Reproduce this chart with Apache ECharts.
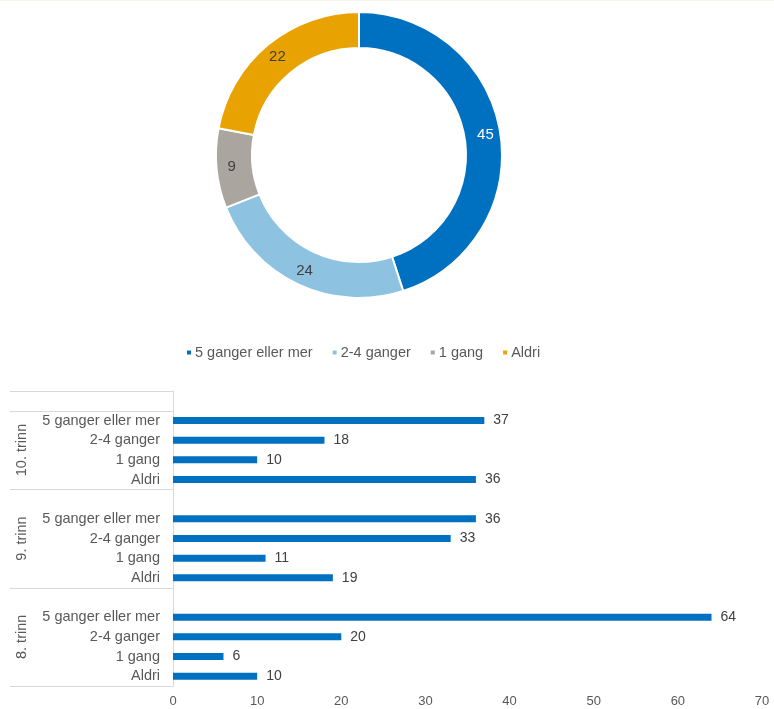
<!DOCTYPE html>
<html>
<head>
<meta charset="utf-8">
<script src="https://cdn.jsdelivr.net/npm/echarts@6/dist/echarts.min.js"></script>
<style>
  html, body { margin: 0; padding: 0; background: #fff; }
  #main { width: 774px; height: 709px; }
</style>
</head>
<body>
<div id="main"></div>
<script>
// svaralternativ og totaler (smultring)
var answers = ['5 ganger eller mer', '2-4 ganger', '1 gang', 'Aldri'];
var totalValues = [45, 24, 9, 22];
var pieColors = ['#0070c0', '#8dc3e0', '#aaa59f', '#e8a202'];

// per trinn (stolper)
var groups = ['10. trinn', '9. trinn', '8. trinn'];
var values10 = [37, 18, 10, 36];
var values9 = [36, 33, 11, 19];
var values8 = [64, 20, 6, 10];

var xMax = 70, xStep = 10;

var font = 'Liberation Sans, Arial, sans-serif';
var textGray = '#595959';

// bygger kategoriene: en tom rad foran hver gruppe
var categories = [], barData = [];
[values10, values9, values8].forEach(function (vals) {
    categories.push('');
    barData.push('-');
    answers.forEach(function (a, i) {
        categories.push(a);
        barData.push(vals[i]);
    });
});

var myChart = echarts.init(document.getElementById('main'));

var option = {
    backgroundColor: '#fff',
    textStyle: { fontFamily: font },
    legend: {
        data: answers,
        left: 180,
        top: 340,
        itemWidth: 6,
        itemHeight: 6,
        itemGap: 18,
        icon: 'rect',
        textStyle: { color: textGray, fontSize: 14.5, fontFamily: font, padding: [0, 0, 0, -2] }
    },
    grid: {
        left: 173,
        right: 12,
        top: 391,
        bottom: 23,
        containLabel: false
    },
    xAxis: {
        type: 'value',
        min: 0,
        max: xMax,
        interval: xStep,
        axisLine: { show: false },
        axisTick: { show: false },
        splitLine: { show: false },
        axisLabel: { color: textGray, fontSize: 13, margin: 9, fontFamily: font }
    },
    yAxis: {
        type: 'category',
        inverse: true,
        data: categories,
        axisLine: { show: true, lineStyle: { color: '#d9d9d9' } },
        axisTick: { show: false },
        axisLabel: { color: textGray, fontSize: 14.5, margin: 13, interval: 0, fontFamily: font }
    },
    series: [
        {
            type: 'pie',
            center: [359, 155],
            radius: [107, 143],
            startAngle: 90,
            clockwise: true,
            avoidLabelOverlap: false,
            itemStyle: { borderColor: '#fff', borderWidth: 2 },
            label: {
                show: true,
                position: 'inside',
                formatter: '{c}',
                fontSize: 15,
                color: '#404040',
                fontFamily: font
            },
            labelLine: { show: false },
            emphasis: { disabled: true },
            data: answers.map(function (a, i) {
                var d = { name: a, value: totalValues[i], itemStyle: { color: pieColors[i] } };
                if (i === 0) d.label = { color: '#fff' };
                return d;
            })
        },
        {
            type: 'bar',
            barWidth: 7,
            itemStyle: { color: '#0070c0' },
            label: {
                show: true,
                position: 'right',
                distance: 9,
                color: '#404040',
                fontSize: 14,
                fontFamily: font
            },
            data: barData
        }
    ]
};

myChart.setOption(option);

// gruppelinjer og trinn-etiketter, plassert ut fra kategoriaksen
var yOf = function (i) { return myChart.convertToPixel({ yAxisIndex: 0 }, i); };
var band = yOf(1) - yOf(0);
var edge = function (i) { return yOf(i) - band / 2; };
var gridLeft = 173;
var lines = [0, 1, 5, 10, 15];
var graphics = lines.map(function (i) {
    var y = Math.round(edge(i)) + 0.5;
    return {
        type: 'line',
        shape: { x1: 10, y1: y, x2: gridLeft, y2: y },
        style: { stroke: '#d9d9d9', lineWidth: 1 },
        silent: true
    };
});
var spans = [[1, 5], [5, 10], [10, 15]];
groups.forEach(function (g, k) {
    var yMid = (edge(spans[k][0]) + edge(spans[k][1])) / 2;
    graphics.push({
        type: 'text',
        x: 22,
        y: yMid,
        rotation: Math.PI / 2,
        style: {
            text: g,
            fill: textGray,
            font: '14.5px ' + font,
            align: 'center',
            verticalAlign: 'middle'
        },
        silent: true
    });
});
// tynn kant øverst
graphics.push({
    type: 'line',
    shape: { x1: 0, y1: 0.5, x2: 774, y2: 0.5 },
    style: { stroke: '#f8f3ea', lineWidth: 1 },
    silent: true
});
myChart.setOption({ graphic: graphics });
</script>
</body>
</html>
